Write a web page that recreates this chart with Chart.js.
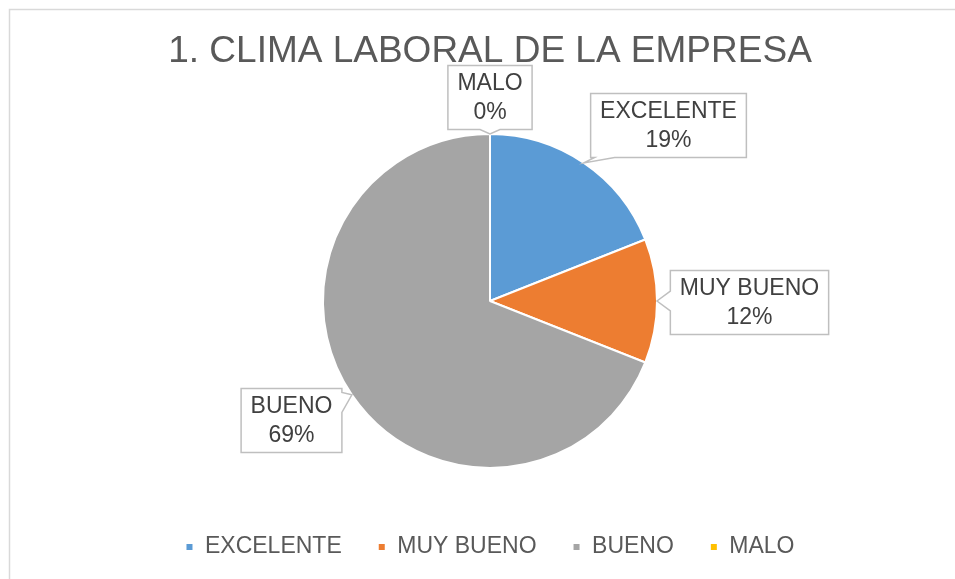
<!DOCTYPE html>
<html>
<head>
<meta charset="utf-8">
<script src="https://cdn.jsdelivr.net/npm/chart.js@4.4.1/dist/chart.umd.min.js"></script>
<style>
  body { margin: 0; background: #ffffff; }
  #wrap { width: 955px; height: 579px; position: relative; }
</style>
</head>
<body>
<div id="wrap"><canvas id="climaChart"></canvas></div>
<script>
// Datos del gráfico
const categorias = ['EXCELENTE', 'MUY BUENO', 'BUENO', 'MALO'];
const porcentajes = [19, 12, 69, 0];
const colores = ['#5B9BD5', '#ED7D31', '#A5A5A5', '#FFC000'];

const fuente = '"Liberation Sans", Arial, sans-serif';

// posición de cada etiqueta (centro de la caja) respecto al centro del pastel
const posEtiquetas = [
    { dx: 178.5, dy: -175.5 },
    { dx: 259.5, dy: 1.5 },
    { dx: -198.5, dy: 119.5 },
    { dx: 0, dy: -203.5 }
];

// borde exterior del área del gráfico
const bordeGrafico = {
    id: 'bordeGrafico',
    beforeDraw(chart) {
        const ctx = chart.ctx;
        ctx.save();
        ctx.strokeStyle = '#d9d9d9';
        ctx.lineWidth = 1.5;
        ctx.strokeRect(9.5, 9.5, 980, 620);
        ctx.restore();
    }
};

// etiquetas tipo "llamada" con caja y punta
const llamadas = {
    id: 'llamadas',
    afterDraw(chart) {
        const ctx = chart.ctx;
        const meta = chart.getDatasetMeta(0);
        ctx.save();
        ctx.font = '23px ' + fuente;
        meta.data.forEach((arc, i) => {
            const mid = (arc.startAngle + arc.endAngle) / 2;
            const tip = {
                x: arc.x + Math.cos(mid) * arc.outerRadius,
                y: arc.y + Math.sin(mid) * arc.outerRadius
            };
            const lineas = [categorias[i], porcentajes[i] + '%'];
            const w = Math.max(...lineas.map(t => ctx.measureText(t).width)) + 19;
            const h = 64;
            const cx = arc.x + posEtiquetas[i].dx;
            const cy = arc.y + posEtiquetas[i].dy;
            const L = cx - w / 2, R = cx + w / 2, T = cy - h / 2, B = cy + h / 2;

            const nx = (tip.x - cx) / (w / 2);
            const ny = (tip.y - cy) / (h / 2);
            const clamp = (v, a, b) => Math.max(a, Math.min(b, v));
            let pts;
            if (Math.abs(ny) >= Math.abs(nx)) {
                const m = clamp(tip.x, L + 14, R - 14);
                if (ny > 0) {
                    pts = [[L, T], [R, T], [R, B], [m + 10, B], [tip.x, tip.y], [m - 10, B], [L, B]];
                } else {
                    pts = [[L, T], [m - 10, T], [tip.x, tip.y], [m + 10, T], [R, T], [R, B], [L, B]];
                }
            } else {
                const m = clamp(tip.y, T + 14, B - 14);
                if (nx > 0) {
                    pts = [[L, T], [R, T], [R, m - 10], [tip.x, tip.y], [R, m + 10], [R, B], [L, B]];
                } else {
                    pts = [[L, T], [R, T], [R, B], [L, B], [L, m + 10], [tip.x, tip.y], [L, m - 10]];
                }
            }
            ctx.beginPath();
            pts.forEach((p, k) => k ? ctx.lineTo(p[0], p[1]) : ctx.moveTo(p[0], p[1]));
            ctx.closePath();
            ctx.fillStyle = '#ffffff';
            ctx.fill();
            ctx.strokeStyle = '#bfbfbf';
            ctx.lineWidth = 1.5;
            ctx.stroke();

            ctx.fillStyle = '#404040';
            ctx.textAlign = 'center';
            ctx.textBaseline = 'middle';
            ctx.fillText(lineas[0], cx, T + 18);
            ctx.fillText(lineas[1], cx, T + 47);
        });
        ctx.restore();
    }
};

const ctx = document.getElementById('climaChart').getContext('2d');
const climaChart = new Chart(ctx, {
    type: 'pie',
    data: {
        labels: categorias,
        datasets: [{
            data: porcentajes,
            backgroundColor: colores,
            borderColor: '#ffffff',
            borderWidth: 2,
            radius: 167
        }]
    },
    options: {
        responsive: true,
        maintainAspectRatio: false,
        animation: false,
        layout: {
            padding: { top: 9, left: 25, right: 0, bottom: 10.5 }
        },
        plugins: {
            title: {
                display: true,
                text: '1. CLIMA LABORAL DE LA EMPRESA',
                color: '#595959',
                font: { family: fuente, size: 37, weight: 'normal' },
                padding: { top: 20.3, bottom: 28.8 }
            },
            legend: {
                position: 'bottom',
                labels: {
                    boxWidth: 8,
                    boxHeight: 8,
                    padding: 36,
                    color: '#595959',
                    font: { family: fuente, size: 23 }
                }
            },
            tooltip: { enabled: false }
        }
    },
    plugins: [bordeGrafico, llamadas]
});
</script>
</body>
</html>
